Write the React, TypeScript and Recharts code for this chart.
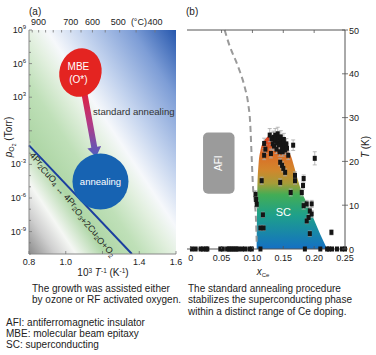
import React from "react";
import {
  ComposedChart, XAxis, YAxis, Line, Area, Scatter, ErrorBar,
  ReferenceArea, ReferenceDot, ReferenceLine,
} from "recharts";

const FONT = "'Liberation Sans', Arial, Helvetica, sans-serif";
const INK = "#222";

// ---------- panel (a): p(O2) vs 1000/T ----------
const invTTicks = [0.8, 1.0, 1.2, 1.4, 1.6];
const invTLabels = [0.8, 1.0, 1.4, 1.6];
const celsiusTicks = [950, 900, 850, 800, 750, 700, 650, 600, 550, 500, 450, 400];
const celsiusLabels = [900, 700, 600, 500, 400];
const logPTicks = [-11, -10, -9, -8, -7, -6, -5, -4, -3, -2, -1, 0, 1, 2, 3, 4, 5, 6, 7, 8, 9];
const logPLabels = [9, 6, 3, -3, -6, -9];
const boundaryInvT = [0.8, 1.36];
const boundaryLogP = [-1.3, -11];

// annotation anchors, in data units
const mbeAt = { x: 1.08, y: 5.2 };
const arrowFrom = { x: 1.099, y: 3.55 };
const arrowTo = { x: 1.165, y: -2.34 };
const annealAt = { x: 1.189, y: -4.53 };
const stdAnnealAt = { x: 1.148, y: 1.45 };
const reactionAt = { x: 1.045, y: -6.45 };

// ---------- panel (b): Tc vs Ce doping ----------
const ceTicks = [0, 0.05, 0.1, 0.15, 0.2, 0.25];
const tTicks = [0, 10, 20, 30, 40, 50];
const zeroX = [0.002, 0.008, 0.016, 0.02, 0.025, 0.027, 0.048, 0.052, 0.059, 0.062, 0.065, 0.068, 0.071, 0.074,
  0.077, 0.083, 0.088, 0.095, 0.099, 0.113, 0.185, 0.21, 0.221, 0.224, 0.229, 0.237, 0.245, 0.25];
const tcX = [0.105, 0.106, 0.107, 0.117, 0.113, 0.118, 0.115, 0.119, 0.121, 0.119, 0.128, 0.130,
  0.131, 0.133, 0.134, 0.135, 0.136, 0.137, 0.138, 0.139, 0.140, 0.141, 0.142, 0.143, 0.144, 0.145, 0.146, 0.147,
  0.148, 0.149, 0.150, 0.151, 0.152, 0.153, 0.155, 0.156,
  0.145, 0.148, 0.150, 0.153, 0.158, 0.166, 0.169, 0.169, 0.145, 0.183, 0.182, 0.201, 0.162, 0.180,
  0.183, 0.188, 0.193, 0.196, 0.191, 0.188, 0.196, 0.193, 0.228];
const tcT = [12.5, 11.3, 10.2, 7.8, 4.8, 4.8, 15.6, 24.1, 22.8, 21.4, 26.0, 21.8,
  25.2, 24.0, 25.5, 23.5, 24.8, 26.0, 25.0, 22.8, 24.2, 26.3, 25.3, 23.8, 22.2, 24.6, 25.6, 24.0,
  23.0, 22.2, 24.3, 25.0, 23.5, 22.6, 24.0, 23.0,
  19.8, 19.1, 18.4, 17.5, 21.4, 23.7, 16.8, 15.6, 15.2, 16.1, 14.5, 20.7, 12.9, 12.9,
  9.9, 10.3, 8.7, 8.0, 7.2, 6.4, 10.3, 3.5, 3.8];
const tcErr = [0.8, 0.8, 0.8, 0.6, 0.6, 0.6, 0.8, 1.2, 1.0, 1.0, 1.5, 1.0,
  1.4, 1.2, 1.4, 1.0, 1.2, 1.5, 1.2, 1.0, 1.2, 1.5, 1.4, 1.0, 1.0, 1.2, 1.4, 1.2,
  1.0, 1.0, 1.2, 1.4, 1.0, 1.0, 1.2, 1.0,
  0.8, 0.8, 0.8, 0.8, 1.0, 1.2, 0.8, 0.8, 0.8, 0.8, 0.8, 1.5, 0.8, 0.8,
  0.8, 0.8, 0.8, 0.8, 0.6, 0.6, 0.8, 0.6, 0.6];
const domeX = [0.107, 0.108, 0.110, 0.113, 0.117, 0.122, 0.128, 0.135, 0.142, 0.150, 0.157, 0.163, 0.168,
  0.174, 0.180, 0.190, 0.200, 0.210, 0.221];
const domeT = [0, 14, 19.5, 22.5, 24.3, 25.3, 25.8, 25.7, 25.1, 24.0, 22.6, 21.0, 18.6, 15.6, 13.0, 10.0, 6.6, 3.3, 0];
const afiEdgeX = [0.055, 0.064, 0.073, 0.080, 0.088, 0.093, 0.0965, 0.099, 0.101, 0.1035, 0.106, 0.107];
const afiEdgeT = [50, 46, 43, 40.4, 36.7, 33.3, 28.5, 20.2, 14, 11, 6, 1];
const afiBox = { x1: 0.020, x2: 0.071, y1: 12.6, y2: 26.6 };
const scAt = { x: 0.150, y: 8.5 };

const toInvT = (c: number) => 1000 / (c + 273.15);

const boundaryData = boundaryInvT.map((x, i) => ({ x, y: boundaryLogP[i] }));
const zeroData = zeroX.map((x) => ({ x, t: 0 }));
const tcData = tcX.map((x, i) => ({ x, t: tcT[i], err: tcErr[i] }));
const domeData = domeX.map((x, i) => ({ x, t: domeT[i] }));
const afiEdgeData = afiEdgeX.map((x, i) => ({ x, t: afiEdgeT[i] }));

// ----- tick renderers -----
const InvTTick = (p: any) => {
  const { x, y, payload } = p;
  const v = payload.value;
  const show = invTLabels.some((l) => Math.abs(l - v) < 1e-6);
  return (
    <g>
      <line x1={x} x2={x} y1={y} y2={y - 3} stroke="#777" strokeWidth={0.8} />
      {show && (
        <text x={x} y={y + 11} textAnchor="middle" fontSize={9} fill={INK} fontFamily={FONT}>{v.toFixed(1)}</text>
      )}
    </g>
  );
};

const CelsiusTick = (p: any) => {
  const { x, y, payload } = p;
  const c = Math.round(1000 / payload.value - 273.15);
  return (
    <g>
      <line x1={x} x2={x} y1={y} y2={y + 2.5} stroke="#777" strokeWidth={0.8} />
      {celsiusLabels.includes(c) && (
        <text x={c === 500 ? x - 1.5 : x} y={y - 5} textAnchor="middle" fontSize={9} fill={INK} fontFamily={FONT}>{c}</text>
      )}
      {c === 400 && (
        <text x={x - 8} y={y - 5} textAnchor="end" fontSize={9} fill={INK} fontFamily={FONT}>(°C)</text>
      )}
    </g>
  );
};

const LogPTick = (p: any) => {
  const { x, y, payload } = p;
  const v = Math.round(payload.value);
  const major = v % 3 === 0;
  return (
    <g>
      <line x1={x} x2={x + (major ? 3 : 2)} y1={y} y2={y} stroke="#777" strokeWidth={0.8} />
      {logPLabels.includes(v) && (
        <text x={x - 3} y={y + 3} textAnchor="end" fontSize={9} fill={INK} fontFamily={FONT}>
          10<tspan dy={-4} fontSize={6}>{v}</tspan>
        </text>
      )}
    </g>
  );
};

const CeTick = (p: any) => {
  const { x, y, payload } = p;
  const v = payload.value;
  return (
    <g>
      <line x1={x} x2={x} y1={y} y2={y - 3} stroke="#555" strokeWidth={0.8} />
      <text x={x} y={y + 12} textAnchor="middle" fontSize={9} fill={INK} fontFamily={FONT}>
        {v === 0 ? "0" : v.toFixed(2)}
      </text>
    </g>
  );
};

const TopInnerTick = (p: any) => (
  <line x1={p.x} x2={p.x} y1={p.y} y2={p.y + 3} stroke="#555" strokeWidth={0.8} />
);

const LeftInnerTick = (p: any) => (
  <line x1={p.x} x2={p.x + 3} y1={p.y} y2={p.y} stroke="#555" strokeWidth={0.8} />
);

const TTick = (p: any) => (
  <g>
    <line x1={p.x - 3} x2={p.x + 3} y1={p.y} y2={p.y} stroke="#555" strokeWidth={0.8} />
    <text x={p.x + 4} y={p.y + 3.5} fontSize={9} fill={INK} fontFamily={FONT}>{p.payload.value}</text>
  </g>
);

// ----- annotation shapes -----
const MbeShape = (p: any) => (
  <g>
    <ellipse cx={p.cx} cy={p.cy} rx={21} ry={24.5} fill="#e42421" transform={`rotate(15 ${p.cx} ${p.cy})`} />
    <text x={p.cx - 2} y={p.cy - 3} textAnchor="middle" fill="#fff" fontSize={10} fontFamily={FONT}>MBE</text>
    <text x={p.cx - 2} y={p.cy + 10.5} textAnchor="middle" fill="#fff" fontSize={10} fontFamily={FONT}>(O*)</text>
  </g>
);

const AnnealShape = (p: any) => (
  <g>
    <circle cx={p.cx} cy={p.cy} r={28} fill="#1763b2" />
    <text x={p.cx} y={p.cy + 3.5} textAnchor="middle" fill="#fff" fontSize={9.5} fontFamily={FONT}>annealing</text>
  </g>
);

const StdAnnealShape = (p: any) => (
  <text x={p.cx} y={p.cy} fontSize={9.6} fill="#333" fontFamily={FONT}>standard annealing</text>
);

const ReactionShape = (p: any) => {
  const sub = (s: string) => [
    <tspan key="a" dy={2} fontSize={6.5}>{s}</tspan>,
    <tspan key="b" dy={-2} fontSize={9}>{""}</tspan>,
  ];
  return (
    <text x={p.cx} y={p.cy} textAnchor="middle" fontSize={9} fill="#222" fontFamily={FONT}
      transform={`rotate(46.4 ${p.cx} ${p.cy})`}>
      4Pr{sub("2")}CuO{sub("4")} ↔ 4Pr{sub("2")}O{sub("3")}+2Cu{sub("2")}O+O{sub("2")}
    </text>
  );
};

const ArrowShape = (p: any) => {
  const { x1, y1, x2, y2 } = p;
  const dx = x2 - x1;
  const dy = y2 - y1;
  const len = Math.hypot(dx, dy) || 1;
  const ux = dx / len, uy = dy / len;
  const nx = -uy, ny = ux;
  const hw = 3, hh = 7, hl = 10;
  const bx = x2 - ux * hl, by = y2 - uy * hl;
  const pts = [
    [x1 + nx * hw, y1 + ny * hw], [bx + nx * hw, by + ny * hw], [bx + nx * hh, by + ny * hh], [x2, y2],
    [bx - nx * hh, by - ny * hh], [bx - nx * hw, by - ny * hw], [x1 - nx * hw, y1 - ny * hw],
  ].map((q) => q.join(",")).join(" ");
  return <polygon points={pts} fill="url(#arrowGrad)" />;
};

const AfiShape = (p: any) => (
  <g>
    <rect x={p.x} y={p.y} width={p.width} height={p.height} rx={5} fill="#9b9b9b" />
    <text x={0} y={0} textAnchor="middle" fontSize={10} fill="#fff" fontFamily={FONT}
      transform={`translate(${p.x + p.width / 2 + 3.5},${p.y + p.height / 2}) rotate(-90)`}>AFI</text>
  </g>
);

const ScShape = (p: any) => (
  <text x={p.cx} y={p.cy + 4} textAnchor="middle" fontSize={11} fill="#fff" fontFamily={FONT}>SC</text>
);

const Square = (p: any) => (
  <rect x={p.cx - 2} y={p.cy - 2.5} width={4} height={5} fill="#151515" />
);

function PanelA() {
  return (
    <ComposedChart width={186} height={285} margin={{ top: 10, right: 10, bottom: 0, left: 4 }}>
      <defs>
        <linearGradient id="bgA" x1="0" y1="1" x2="1" y2="0">
          <stop offset="0" stopColor="#8a8a8a" />
          <stop offset="0.09" stopColor="#cfcfcf" />
          <stop offset="0.16" stopColor="#f5f7f4" />
          <stop offset="0.26" stopColor="#aed6a6" />
          <stop offset="0.38" stopColor="#bfe0b8" />
          <stop offset="0.49" stopColor="#e3f0e0" />
          <stop offset="0.56" stopColor="#f6f8fb" />
          <stop offset="0.68" stopColor="#c3d3ee" />
          <stop offset="0.85" stopColor="#7d9dd6" />
          <stop offset="1" stopColor="#2657ad" />
        </linearGradient>
        <linearGradient id="arrowGrad" x1="0" y1="0" x2="0" y2="1">
          <stop offset="0" stopColor="#e2203a" />
          <stop offset="0.5" stopColor="#b23a86" />
          <stop offset="1" stopColor="#4f5fc2" />
        </linearGradient>
      </defs>
      <XAxis dataKey="x" type="number" domain={[0.8, 1.6]} ticks={invTTicks} interval={0} height={31}
        tickLine={false} tickSize={0} tickMargin={0} axisLine={{ stroke: "#888" }} tick={(p: any) => <InvTTick {...p} />} />
      <XAxis xAxisId="top" orientation="top" dataKey="x" type="number" domain={[0.8, 1.6]}
        ticks={celsiusTicks.map(toInvT)} interval={0} height={20} axisLine={false} tickLine={false}
        tickSize={0} tickMargin={0} tick={(p: any) => <CelsiusTick {...p} />} />
      <YAxis type="number" domain={[-11, 9]} ticks={logPTicks} interval={0} width={25} allowDataOverflow
        axisLine={{ stroke: "#888" }} tickLine={false} tickSize={0} tickMargin={0} tick={(p: any) => <LogPTick {...p} />} />
      <ReferenceArea x1={0.8} x2={1.6} y1={-11} y2={9} fill="url(#bgA)" fillOpacity={1} stroke="none" />
      <Line xAxisId="top" data={boundaryData} dataKey="y" stroke="none" dot={false} isAnimationActive={false} />
      <Line data={boundaryData} dataKey="y" type="linear" stroke="#1b3f9f" strokeWidth={2} dot={false}
        isAnimationActive={false} />
      <ReferenceDot x={reactionAt.x} y={reactionAt.y} r={0} shape={ReactionShape} />
      <ReferenceDot x={stdAnnealAt.x} y={stdAnnealAt.y} r={0} shape={StdAnnealShape} />
      <ReferenceDot x={annealAt.x} y={annealAt.y} r={0} shape={AnnealShape} />
      <ReferenceDot x={mbeAt.x} y={mbeAt.y} r={0} shape={MbeShape} />
      <ReferenceLine segment={[arrowFrom, arrowTo]} shape={ArrowShape} />
    </ComposedChart>
  );
}

function PanelB() {
  return (
    <ComposedChart width={196} height={285} margin={{ top: 10, right: 0, bottom: 0, left: 7 }}>
      <defs>
        <linearGradient id="domeGrad" x1="0" y1="0" x2="0" y2="1">
          <stop offset="0" stopColor="#de3b22" />
          <stop offset="0.15" stopColor="#dc6a26" />
          <stop offset="0.3" stopColor="#d2862c" />
          <stop offset="0.42" stopColor="#a59c38" />
          <stop offset="0.52" stopColor="#43ad55" />
          <stop offset="0.7" stopColor="#1ea08a" />
          <stop offset="1" stopColor="#1470c4" />
        </linearGradient>
      </defs>
      <XAxis dataKey="x" type="number" domain={[-0.006, 0.25]} ticks={ceTicks} interval={0} height={36}
        tickLine={false} tickSize={0} tickMargin={0} axisLine={{ stroke: "#555" }} tick={(p: any) => <CeTick {...p} />} />
      <XAxis xAxisId="top" orientation="top" dataKey="x" type="number" domain={[-0.006, 0.25]}
        ticks={[0.05, 0.1, 0.15, 0.2]} interval={0} height={20} tickLine={false} tickSize={0} tickMargin={0}
        axisLine={{ stroke: "#555" }} tick={(p: any) => <TopInnerTick {...p} />} />
      <YAxis yAxisId="left" orientation="left" type="number" domain={[0, 50]} ticks={[10, 20, 30, 40]}
        interval={0} width={0} tickLine={false} tickSize={0} tickMargin={0} axisLine={{ stroke: "#555" }}
        tick={(p: any) => <LeftInnerTick {...p} />} />
      <YAxis orientation="right" type="number" domain={[0, 50]} ticks={tTicks} interval={0} width={31}
        tickLine={false} tickSize={0} tickMargin={0} axisLine={{ stroke: "#555" }} tick={(p: any) => <TTick {...p} />} />
      <ReferenceArea x1={afiBox.x1} x2={afiBox.x2} y1={afiBox.y1} y2={afiBox.y2} shape={AfiShape} />
      <Area data={domeData} dataKey="t" type="monotone" stroke="none" fill="url(#domeGrad)" fillOpacity={1}
        isAnimationActive={false} />
      <Line xAxisId="top" yAxisId="left" data={afiEdgeData} dataKey="t" stroke="none" dot={false}
        isAnimationActive={false} />
      <ReferenceDot x={scAt.x} y={scAt.y} r={0} shape={ScShape} />
      <Line data={afiEdgeData} dataKey="t" type="monotone" stroke="#9a9a9a" strokeWidth={2}
        strokeDasharray="6 4" dot={false} isAnimationActive={false} />
      <Scatter data={zeroData} dataKey="t" shape={Square} isAnimationActive={false} />
      <Scatter data={tcData} dataKey="t" shape={Square} isAnimationActive={false}>
        <ErrorBar dataKey="err" direction="y" width={2} stroke="#aaaaaa" strokeWidth={0.8} />
      </Scatter>
    </ComposedChart>
  );
}

export default function App() {
  const t = { fontSize: 10, fill: INK, fontFamily: FONT } as const;
  return (
    <div style={{ position: "absolute", left: 0, top: 0, width: 376, height: 355, background: "#fff", overflow: "hidden" }}>
      <div style={{ position: "absolute", left: 0, top: 0 }}><PanelA /></div>
      <div style={{ position: "absolute", left: 180, top: 0 }}><PanelB /></div>
      <svg width={376} height={355} style={{ position: "absolute", left: 0, top: 0, pointerEvents: "none" }}>
        <text x={29} y={15} {...t}>(a)</text>
        <text x={186} y={15} {...t}>(b)</text>
        <text transform="translate(12,137) rotate(-90)" textAnchor="middle" {...t}>
          <tspan fontStyle="italic">p</tspan>
          <tspan dy={2} fontSize={7}>O</tspan>
          <tspan dy={1.5} fontSize={5}>2</tspan>
          <tspan dy={-3.5} fontSize={10}> (Torr)</tspan>
        </text>
        <text x={103} y={276} textAnchor="middle" {...t}>
          10<tspan dy={-3.5} fontSize={6.5}>3</tspan>
          <tspan dy={3.5} fontStyle="italic"> T</tspan>
          <tspan dy={-3.5} fontSize={6.5}>-1</tspan>
          <tspan dy={3.5}> (K</tspan>
          <tspan dy={-3.5} fontSize={6.5}>-1</tspan>
          <tspan dy={3.5}>)</tspan>
        </text>
        <text x={263} y={275} textAnchor="middle" {...t}>
          <tspan fontStyle="italic">x</tspan>
          <tspan dy={2} fontSize={6}>Ce</tspan>
        </text>
        <text transform="translate(369,147) rotate(-90)" textAnchor="middle" {...t}>
          <tspan fontStyle="italic">T</tspan> (K)
        </text>
        <text x={32} y={291.5} {...t}>The growth was assisted either</text>
        <text x={32} y={303} {...t}>by ozone or RF activated oxygen.</text>
        <text x={188} y={291.5} {...t}>The standard annealing procedure</text>
        <text x={188} y={303} {...t}>stabilizes the superconducting phase</text>
        <text x={188} y={314.5} {...t}>within a distinct range of Ce doping.</text>
        <text x={6} y={325.5} {...t}>AFI: antiferromagnetic insulator</text>
        <text x={6} y={336.5} {...t}>MBE: molecular beam epitaxy</text>
        <text x={6} y={347.5} {...t}>SC: superconducting</text>
      </svg>
    </div>
  );
}
